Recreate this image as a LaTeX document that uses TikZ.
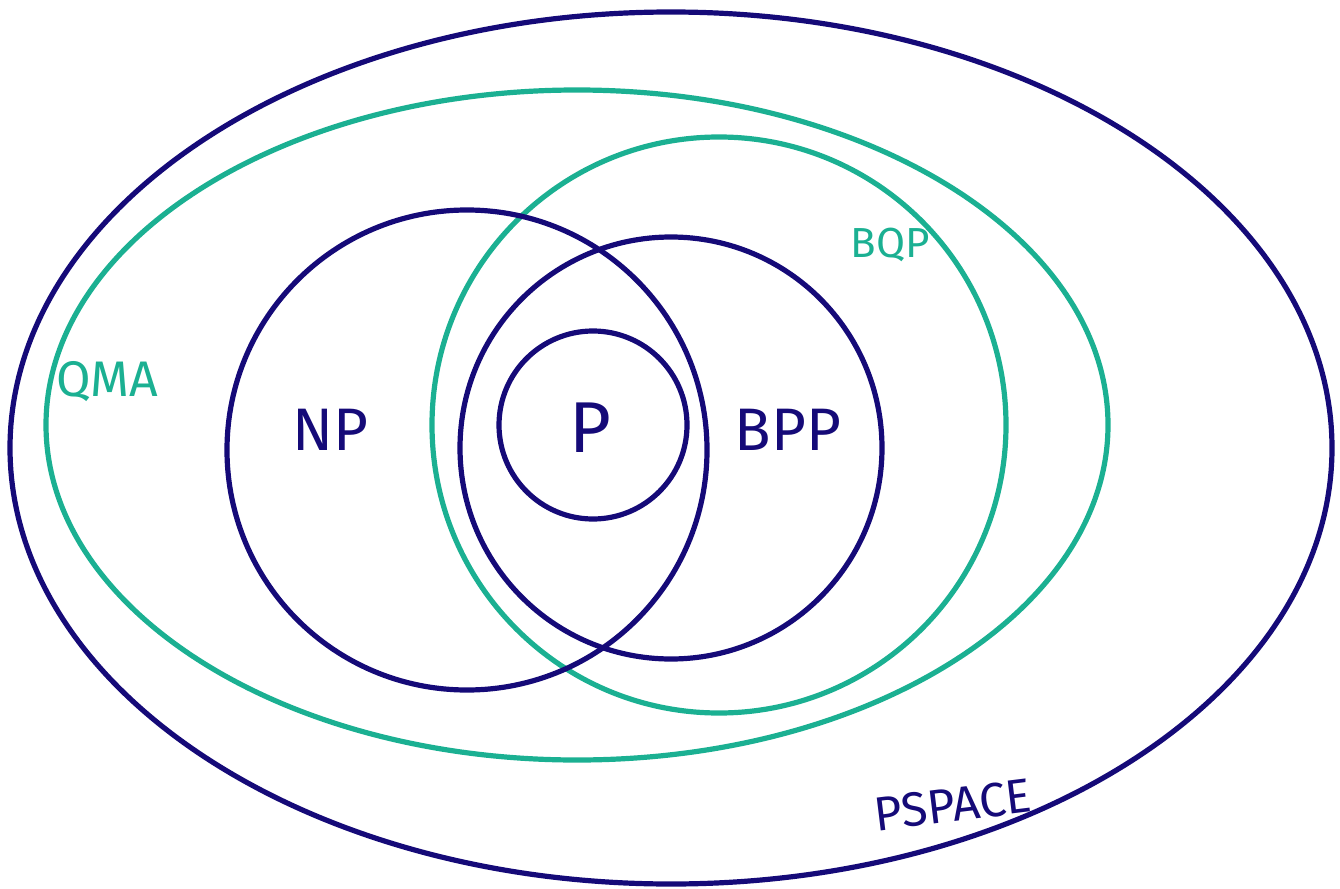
\documentclass[tikz,border=0pt]{standalone}
\usepackage{fontspec}
\setmainfont{Fira Sans}
\definecolor{navy}{HTML}{150A78}
\definecolor{teal}{HTML}{1BB092}
\begin{document}
\begin{tikzpicture}[x=1pt,y=-1pt,
  setline/.style={line width=5.2pt},
  navyset/.style={setline,draw=navy},
  tealset/.style={setline,draw=teal},
  lab/.style={inner sep=0pt,font=\fontsize{#1}{#1}\selectfont\mdseries}]
\useasboundingbox (0,0) rectangle (1340,888);
\draw[navyset] (671,448) ellipse [x radius=661, y radius=436];
\draw[tealset] (577,425) ellipse [x radius=531, y radius=335];
\draw[tealset] (719,425) ellipse [x radius=287, y radius=288];
\draw[navyset] (467,450) circle [radius=240];
\draw[navyset] (671,448) circle [radius=211];
\draw[navyset] (593,425) circle [radius=94];
\node[lab=60,text=navy] (np) at (330,430) {NP};
\node[lab=72,text=navy] (p) at (590,428) {P};
\node[lab=60,text=navy] (bpp) at (788,430) {BPP};
\node[lab=42,text=teal] (bqp) at (890,245) {BQP};
\node[lab=50,text=teal] (qma) at (107,382) {QMA};
\node[lab=48,text=navy,rotate=7] (pspace) at (953,805) {PSPACE};
\end{tikzpicture}
\end{document}
